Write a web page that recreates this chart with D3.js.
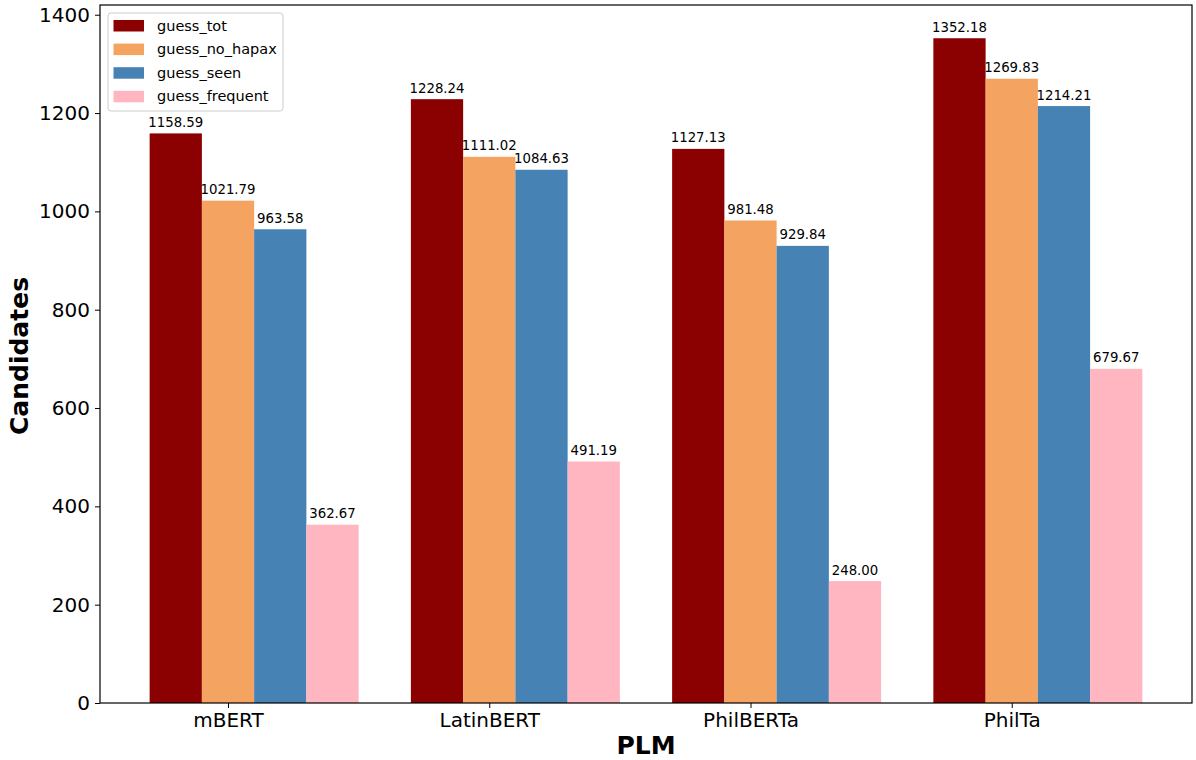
<!DOCTYPE html>
<html><head><meta charset="utf-8">
<script src="https://cdn.jsdelivr.net/npm/d3@7"></script>
<style>body{margin:0;background:#fff}svg{display:block;font-family:"DejaVu Sans",sans-serif}</style>
</head><body><svg id="c" width="1196" height="760"></svg>
<script>
const categories = ["mBERT","LatinBERT","PhilBERTa","PhilTa"];
const seriesNames = ["guess_tot","guess_no_hapax","guess_seen","guess_frequent"];
const guessTot = [1158.59,1228.24,1127.13,1352.18];
const guessNoHapax = [1021.79,1111.02,981.48,1269.83];
const guessSeen = [963.58,1084.63,929.84,1214.21];
const guessFrequent = [362.67,491.19,248.00,679.67];
const yTicks = [0,200,400,600,800,1000,1200,1400];
const colors = ["#8B0000","#F4A460","#4682B4","#FFB6C1"];
const series = [guessTot,guessNoHapax,guessSeen,guessFrequent];

const svg = d3.select("#c");
const L=100,R=1192,T=5,B=703;
const barW=0.2;
const x = d3.scaleLinear().domain([-0.49,3.69]).range([L,R]);
const y = d3.scaleLinear().domain([0,1352.18*1.05]).range([B,T]);

const g = svg.append("g");
series.forEach((vals,j)=>{
  const off=(j-1)*barW;
  g.selectAll(null).data(vals).enter().append("rect")
    .attr("x",(d,i)=>x(i+off-barW/2)).attr("width",x(barW)-x(0))
    .attr("y",d=>y(d)).attr("height",d=>y(0)-y(d)).attr("fill",colors[j]);
  g.selectAll(null).data(vals).enter().append("text")
    .attr("x",(d,i)=>x(i+off)).attr("y",d=>y(d)-6.5)
    .attr("text-anchor","middle").attr("font-size",13.3).attr("fill","#000")
    .text(d=>d.toFixed(2));
});

// frame
svg.append("rect").attr("x",L).attr("y",T).attr("width",R-L).attr("height",B-T)
  .attr("fill","none").attr("stroke","#000").attr("stroke-width",1.2);

const yAxis = svg.append("g").attr("transform",`translate(${L},0)`)
  .call(d3.axisLeft(y).tickValues(yTicks).tickSize(5).tickPadding(5).tickFormat(d3.format("d")));
yAxis.select(".domain").remove();
yAxis.selectAll("text").attr("font-size",20).attr("font-family","DejaVu Sans").attr("fill","#000");
yAxis.selectAll("line").attr("stroke","#000");

const xAxis = svg.append("g").attr("transform",`translate(0,${B})`)
  .call(d3.axisBottom(x).tickValues([0,1,2,3]).tickSize(5).tickPadding(5).tickFormat(i=>categories[i]));
xAxis.select(".domain").remove();
xAxis.selectAll("text").attr("font-size",20).attr("font-family","DejaVu Sans").attr("fill","#000");
xAxis.selectAll("line").attr("stroke","#000");

svg.append("text").attr("x",(L+R)/2).attr("y",754).attr("text-anchor","middle")
  .attr("font-size",25).attr("font-weight","bold").text("PLM");
svg.append("text").attr("transform",`translate(28,356) rotate(-90)`).attr("text-anchor","middle")
  .attr("font-size",25).attr("font-weight","bold").text("Candidates");

// legend
const lg = svg.append("g").attr("transform","translate(108,13)");
lg.append("rect").attr("width",175).attr("height",98).attr("rx",3).attr("fill","#fff")
  .attr("fill-opacity",0.8).attr("stroke","#ccc");
seriesNames.forEach((n,j)=>{
  lg.append("rect").attr("x",5.5).attr("y",7+j*23.6).attr("width",30.5).attr("height",11.5).attr("fill",colors[j]);
  lg.append("text").attr("x",49).attr("y",17.5+j*23.6).attr("font-size",14.5).attr("fill","#000").text(n);
});
</script></body></html>
